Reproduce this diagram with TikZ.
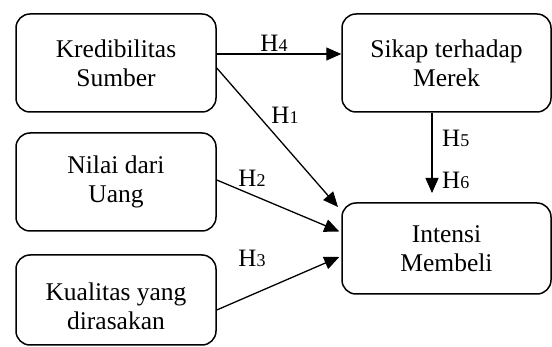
\documentclass[tikz,border=0pt]{standalone}
\usepackage{fontspec}
\setmainfont{Liberation Serif}
\usetikzlibrary{arrows.meta}
\newcommand{\hyp}[1]{H{\fontsize{18}{18}\selectfont #1}}
\begin{document}
\begin{tikzpicture}[x=1pt,y=-1pt,
 box/.style={draw, line width=1.5pt, rounded corners=14pt, align=center, font=\fontsize{25.5}{29}\selectfont, inner sep=0pt},
 arr/.style={line width=1.3pt, -{Triangle[length=15pt,width=13pt]}},
 lbl/.style={font=\fontsize{25}{28}\selectfont, inner sep=0pt}]
\useasboundingbox (0,0) rectangle (552,347);
\node[box, minimum width=200pt, minimum height=98pt] (ks) at (116,63) {Kredibilitas\\Sumber};
\node[box, minimum width=200pt, minimum height=98pt] (nu) at (116,182) {Nilai dari\\Uang};
\node[box, minimum width=200pt, minimum height=90pt,
  label={[align=center, font=\fontsize{25.5}{29}\selectfont, inner sep=0pt, yshift=-6pt]center:Kualitas yang\\dirasakan}] (kd) at (116,300) {};
\node[box, minimum width=209pt, minimum height=98pt] (sm) at (446.5,63) {Sikap terhadap\\Merek};
\node[box, minimum width=209pt, minimum height=91pt] (ib) at (446.5,248.5) {Intensi\\Membeli};
\coordinate (t1) at (338,207);
\coordinate (t2) at ([xshift=-2pt,yshift=17pt]ib.west);
\coordinate (t3) at ([xshift=-2pt,yshift=-8.5pt]ib.west);
\coordinate (t5) at (432,193);
\draw[arr] ([yshift=9pt]ks.east) -- ([yshift=9pt]sm.west);
\draw[arr] ([yshift=-5pt]ks.east) -- (t1);
\draw[arr] ([yshift=2pt]nu.east) -- (t2);
\draw[arr] ([yshift=-10pt]kd.east) -- (t3);
\draw[arr] ([xshift=-14.5pt]sm.south) -- (t5);
\node[lbl] (h4) at (274,43) {\hyp{4}};
\node[lbl] (h1) at (285,115) {\hyp{1}};
\node[lbl] (h2) at (252,178) {\hyp{2}};
\node[lbl] (h3) at (252,258) {\hyp{3}};
\node[lbl, anchor=west] (h5) at (442,138) {\hyp{5}};
\node[lbl, anchor=west] (h6) at (442,180) {\hyp{6}};
\end{tikzpicture}
\end{document}
